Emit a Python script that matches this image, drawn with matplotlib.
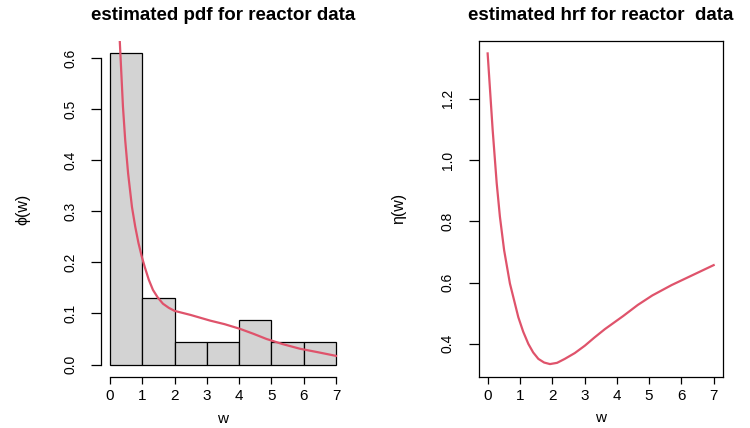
import matplotlib
matplotlib.use("Agg")
import matplotlib.pyplot as plt
import numpy as np

# ---- data ----
bin_edges = [0, 1, 2, 3, 4, 5, 6, 7]
bin_density = [0.6087, 0.1304, 0.0435, 0.0435, 0.0870, 0.0435, 0.0435]

pdf_w = [0.22, 0.30, 0.35, 0.40, 0.47, 0.56, 0.68, 0.78, 0.88, 0.98, 1.08, 1.20, 1.33,
         1.48, 1.64, 1.82, 2.00, 2.50, 3.10, 3.55, 4.02, 4.45, 4.85, 5.35, 5.88, 6.45, 7.0]
pdf_y = [0.72, 0.635, 0.570, 0.505, 0.439, 0.374, 0.308, 0.270, 0.238, 0.212, 0.190, 0.166, 0.146,
         0.131, 0.119, 0.111, 0.105, 0.097, 0.086, 0.079, 0.070, 0.060, 0.050, 0.040, 0.031, 0.024, 0.017]

hrf_w = [0.0, 0.155, 0.28, 0.38, 0.51, 0.69, 0.95, 1.10, 1.26, 1.41, 1.57, 1.75, 1.93,
         2.15, 2.39, 2.70, 3.01, 3.30, 3.63, 4.20, 4.65, 5.10, 5.70, 6.26, 7.0]
hrf_y = [1.348, 1.099, 0.925, 0.815, 0.706, 0.597, 0.487, 0.440, 0.400, 0.372, 0.351, 0.339,
         0.334, 0.338, 0.351, 0.370, 0.394, 0.420, 0.448, 0.491, 0.527, 0.558, 0.592, 0.620, 0.657]

x_ticks = [0, 1, 2, 3, 4, 5, 6, 7]
pdf_yticks = [0.0, 0.1, 0.2, 0.3, 0.4, 0.5, 0.6]
hrf_yticks = [0.4, 0.6, 0.8, 1.0, 1.2]

RED = "#DF536B"
FONT = ["Liberation Sans", "DejaVu Sans"]
plt.rcParams["font.family"] = FONT

fig = plt.figure(figsize=(7.5, 4.28), dpi=100)
W, H = 750, 428

def add_ax(x0, x1, y0, y1):
    return fig.add_axes([x0 / W, 1 - y1 / H, (x1 - x0) / W, (y1 - y0) / H])

def r_lim(lo, hi):
    d = (hi - lo) * 0.04
    return lo - d, hi + d

# ---- left: histogram + pdf ----
ax1 = add_ax(101, 345, 41, 377)
widths = np.diff(bin_edges)
ax1.bar(bin_edges[:-1], bin_density, width=widths, align="edge",
        color="#D3D3D3", edgecolor="black", linewidth=0.9)
ax1.plot(pdf_w, pdf_y, color=RED, lw=1.6, solid_joinstyle="round")
ax1.set_xlim(*r_lim(0, 7))
ax1.set_ylim(*r_lim(0, max(bin_density)))
for s in ["top", "right"]:
    ax1.spines[s].set_visible(False)
ax1.spines["left"].set_bounds(0, 0.6)
ax1.spines["bottom"].set_bounds(0, 7)
ax1.set_xticks(x_ticks)
ax1.set_yticks(pdf_yticks)
ax1.set_yticklabels([f"{v:.1f}" for v in pdf_yticks], rotation=90, va="center")
ax1.set_title("estimated pdf for reactor data", fontsize=13.5, fontweight="bold", pad=15)
ax1.set_xlabel("w", fontsize=11)
ax1.set_ylabel("ϕ(w)", fontsize=11.5)
ax1.yaxis.set_label_coords(-0.291, 0.5)
ax1.xaxis.set_label_coords(0.5, -0.104)

# ---- right: hrf ----
ax2 = add_ax(478.6, 722.7, 41, 376.5)
ax2.plot(hrf_w, hrf_y, color=RED, lw=1.6, solid_joinstyle="round")
ax2.set_xlim(*r_lim(0, 7))
ax2.set_ylim(*r_lim(min(hrf_y), max(hrf_y)))
ax2.set_xticks(x_ticks)
ax2.set_yticks(hrf_yticks)
ax2.set_yticklabels([f"{v:.1f}" for v in hrf_yticks], rotation=90, va="center")
ax2.set_title("estimated hrf for reactor  data", fontsize=13.5, fontweight="bold", pad=15)
ax2.set_xlabel("w", fontsize=11)
ax2.set_ylabel("η(w)", fontsize=11.5)
ax2.yaxis.set_label_coords(-0.297, 0.5)
ax2.xaxis.set_label_coords(0.5, -0.104)

for ax in (ax1, ax2):
    for s in ax.spines.values():
        s.set_linewidth(0.9)
        s.set_color("black")
    ax.tick_params(axis="x", direction="out", length=5, width=0.9, labelsize=11, pad=4)
    ax.tick_params(axis="y", direction="out", length=7, width=0.9, labelsize=10, pad=10)

fig.savefig("out.png", dpi=100)
